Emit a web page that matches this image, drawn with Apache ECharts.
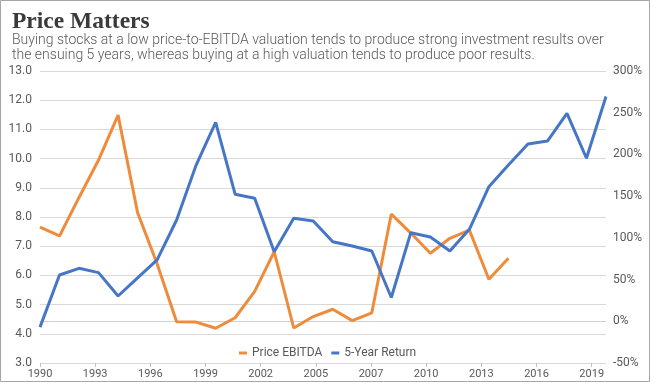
<!DOCTYPE html>
<html>
<head>
<meta charset="utf-8">
<script src="https://cdn.jsdelivr.net/npm/echarts@6/dist/echarts.min.js"></script>
<style>
html,body{margin:0;padding:0;background:#fff;}
#chart{width:650px;height:382px;}
</style>
</head>
<body>
<div id="chart"></div>
<script>
var titleText = 'Price Matters';
var subtitleLines = [
  'Buying stocks at a low price-to-EBITDA valuation tends to produce strong investment results over',
  'the ensuing 5 years, whereas buying at a high valuation tends to produce poor results.'
];
var years = [1990,1991,1992,1993,1994,1995,1996,1997,1998,1999,2000,2001,2002,2003,2004,2005,2006,2007,2008,2009,2010,2011,2012,2013,2014,2015,2016,2017,2018,2019];
var tickLabels = ['1990','1993','1996','1999','2002','2005','2007','2010','2013','2016','2019'];
var seriesNames = ['Price EBITDA', '5-Year Return'];
var priceEbitda = [7.65,7.35,8.67,9.95,11.49,8.15,6.4,4.41,4.4,4.19,4.55,5.45,6.81,4.2,4.59,4.84,4.45,4.72,8.1,7.45,6.76,7.27,7.55,5.87,6.59];
var fiveYearReturn = [-7,55.5,63.5,58.3,30.3,52,73.5,121.4,187.3,238.5,152.2,147.4,83.4,123.4,120.2,95.4,90.2,84.2,28.5,106.2,101,84.2,110.2,161.3,187.3,212.5,216,249.3,195.4,269.5];
var leftTicks = {min: 3, max: 13, interval: 1};
var rightTicks = {min: -50, max: 300, interval: 50};

var chart = echarts.init(document.getElementById('chart'), null, {renderer: 'canvas'});
var grey = '#595959';
var option = {
  animation: false,
  backgroundColor: '#fff',
  title: [
    {text: titleText, left: 7, top: 5,
     textStyle: {fontFamily: 'Liberation Serif', fontWeight: 'bold', fontSize: 23.5, color: '#3a3a3a'}},
    {text: subtitleLines.join('\n'), left: 7, top: 28,
     textStyle: {fontFamily: 'Roboto', fontWeight: 300, fontSize: 14, lineHeight: 15, color: grey}}
  ],
  graphic: [{type: 'rect', silent: true, shape: {x: 0.5, y: 0.5, width: 649, height: 381},
    style: {fill: 'none', stroke: '#a6a6a6', lineWidth: 1}}],
  legend: {
    data: seriesNames, left: 234, top: 342, icon: 'rect', itemWidth: 8, itemHeight: 3, itemGap: 9,
    textStyle: {fontFamily: 'Roboto', fontSize: 12, color: grey}
  },
  grid: [
    {left: 40, right: 44, top: 71, bottom: 19},
    {left: 40, right: 58.3, top: 71, bottom: 19}
  ],
  xAxis: [
    {type: 'category', gridIndex: 0, data: years, boundaryGap: false,
     axisLine: {show: true, lineStyle: {color: '#d0d0d0', width: 1}},
     axisTick: {show: false}, axisLabel: {show: false}, splitLine: {show: false}},
    {type: 'value', gridIndex: 1, min: 0, max: tickLabels.length - 1, interval: 1,
     axisLine: {show: false},
     axisTick: {show: true, length: 4, lineStyle: {color: '#bfbfbf'}},
     axisLabel: {margin: 6, fontFamily: 'Roboto', fontSize: 11, color: grey,
       formatter: function (v) { return tickLabels[Math.round(v)] || ''; }},
     splitLine: {show: false}}
  ],
  yAxis: [
    {type: 'value', gridIndex: 0, position: 'left', min: leftTicks.min, max: leftTicks.max, interval: leftTicks.interval,
     axisLine: {show: false}, axisTick: {show: false},
     axisLabel: {margin: 8, fontFamily: 'Roboto', fontSize: 12, color: grey,
       formatter: function (v) { return v.toFixed(1); }},
     splitLine: {show: true, lineStyle: {color: '#d9d9d9', width: 1}}},
    {type: 'value', gridIndex: 0, position: 'right', min: rightTicks.min, max: rightTicks.max, interval: rightTicks.interval,
     axisLine: {show: false}, axisTick: {show: false},
     axisLabel: {margin: 7, fontFamily: 'Roboto', fontSize: 12, color: grey, formatter: '{value}%'},
     splitLine: {show: false}},
    {type: 'value', gridIndex: 1, min: 0, max: 1, show: false}
  ],
  series: [
    {name: seriesNames[0], type: 'line', xAxisIndex: 0, yAxisIndex: 0, data: priceEbitda,
     symbol: 'none', smooth: false, color: '#EF8C3C', lineStyle: {width: 3, color: '#EF8C3C'}},
    {name: seriesNames[1], type: 'line', xAxisIndex: 0, yAxisIndex: 1, data: fiveYearReturn,
     symbol: 'none', smooth: false, color: '#4676C6', lineStyle: {width: 3, color: '#4676C6'}}
  ]
};
chart.setOption(option);
</script>
</body>
</html>
